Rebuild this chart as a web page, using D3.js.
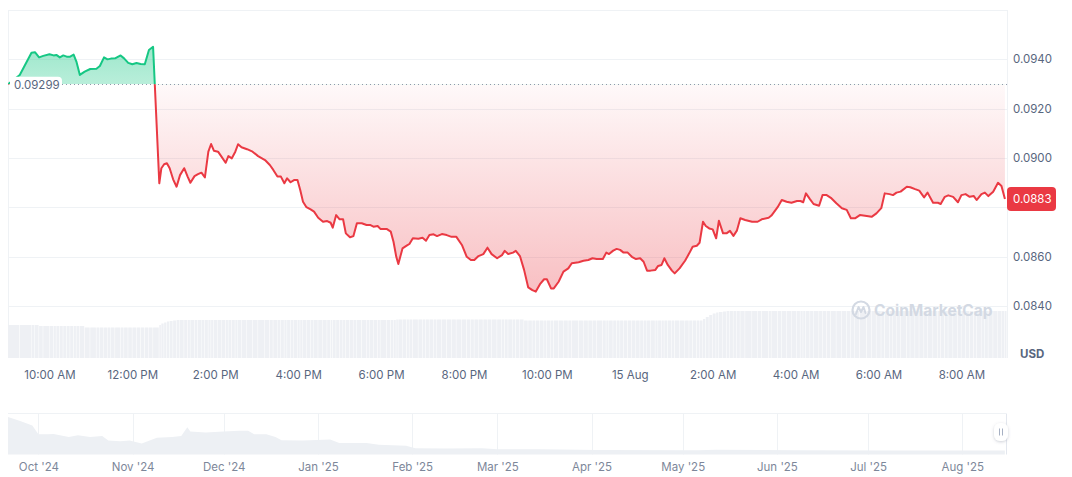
<!DOCTYPE html>
<html><head><meta charset="utf-8">
<script src="https://cdn.jsdelivr.net/npm/d3@7"></script>
<style>
html,body{margin:0;padding:0;background:#fff;}
svg{display:block;font-family:Inter,"Noto Sans",sans-serif;}
</style></head><body>
<svg id="chart" width="1072" height="477"></svg>
<script>
// ---------- DATA ----------
const startDay = [2025, 7, 14]; // 14 Aug 2025 (month 0-based)
const times = [
"09:00","09:17","09:34","09:39","09:45","09:51","10:00","10:06","10:10","10:15",
"10:20","10:25","10:30","10:35","10:39","10:44","10:51","10:59","11:08","11:13",
"11:19","11:24","11:29","11:35","11:43","11:48","11:54","12:00","12:06","12:12",
"12:18","12:24","12:30","12:39","12:42","12:46","12:50","12:54","12:59","13:04",
"13:09","13:15","13:20","13:24","13:30","13:35","13:40","13:45","13:50","13:54",
"13:58","14:04","14:09","14:15","14:19","14:24","14:29","14:33","14:38","14:46",
"14:54","15:02","15:12","15:19","15:24","15:30","15:35","15:40","15:44","15:49",
"15:54","15:59","16:03","16:07","16:12","16:18","16:23","16:29","16:36","16:42",
"16:47","16:50","16:55","17:00","17:05","17:09","17:15","17:20","17:25","17:32",
"17:39","17:44","17:49","17:55","17:59","18:08","18:14","18:18","18:22","18:25",
"18:31","18:37","18:41","18:46","18:54","19:00","19:05","19:10","19:16","19:21",
"19:28","19:35","19:42","19:49","19:57","20:04","20:10","20:15","20:21","20:28",
"20:34","20:40","20:48","20:55","20:59","21:04","21:11","21:15","21:21","21:27",
"21:33","21:39","21:44","21:50","21:56","22:00","22:06","22:10","22:17","22:24",
"22:31","22:36","22:46","22:53","23:00","23:06","23:12","23:21","23:26","23:30",
"23:36","23:41","23:46","23:51","23:57","00:03","00:09","00:15","00:20","00:25",
"00:30","00:37","00:41","00:46","00:50","00:55","01:01","01:05","01:12","01:20",
"01:26","01:31","01:37","01:41","01:46","01:50","01:55","02:00","02:05","02:09",
"02:15","02:20","02:25","02:30","02:35","02:40","02:47","02:57","03:05","03:11",
"03:21","03:25","03:34","03:40","03:47","03:54","04:02","04:07","04:11","04:15",
"04:21","04:26","04:34","04:39","04:45","04:51","04:59","05:07","05:14","05:20",
"05:26","05:33","05:43","05:50","05:57","06:04","06:09","06:16","06:21","06:26",
"06:32","06:41","06:46","06:53","06:59","07:06","07:11","07:19","07:26","07:30",
"07:36","07:41","07:48","07:55","08:00","08:06","08:12","08:18","08:22","08:29",
"08:34","08:39","08:46","08:53","08:58","09:03"];
const prices = [
0.09299,0.09337,0.09427,0.09429,0.09408,0.09414,0.09421,0.09416,0.09418,0.09408,
0.09416,0.09411,0.09411,0.09419,0.09391,0.09337,0.09350,0.09361,0.09362,0.09373,
0.09408,0.09400,0.09403,0.09404,0.09416,0.09404,0.09386,0.09380,0.09385,0.09381,
0.09380,0.09438,0.09451,0.08898,0.08959,0.08975,0.08979,0.08959,0.08914,0.08884,
0.08931,0.08959,0.08925,0.08900,0.08927,0.08935,0.08941,0.08922,0.09026,0.09057,
0.09030,0.09026,0.09006,0.08981,0.09008,0.08999,0.09026,0.09056,0.09044,0.09036,
0.09026,0.09008,0.08992,0.08972,0.08952,0.08925,0.08925,0.08898,0.08918,0.08902,
0.08911,0.08911,0.08871,0.08823,0.08801,0.08792,0.08783,0.08758,0.08742,0.08745,
0.08738,0.08718,0.08769,0.08752,0.08752,0.08695,0.08679,0.08684,0.08736,0.08736,
0.08729,0.08729,0.08722,0.08725,0.08713,0.08713,0.08702,0.08661,0.08600,0.08571,
0.08634,0.08645,0.08652,0.08675,0.08673,0.08677,0.08665,0.08688,0.08691,0.08684,
0.08692,0.08688,0.08681,0.08681,0.08648,0.08600,0.08587,0.08587,0.08603,0.08611,
0.08637,0.08611,0.08594,0.08607,0.08624,0.08611,0.08617,0.08624,0.08603,0.08547,
0.08476,0.08465,0.08459,0.08489,0.08509,0.08509,0.08472,0.08472,0.08499,0.08540,
0.08553,0.08574,0.08578,0.08584,0.08587,0.08594,0.08591,0.08591,0.08617,0.08611,
0.08625,0.08632,0.08628,0.08617,0.08617,0.08600,0.08591,0.08594,0.08580,0.08544,
0.08544,0.08547,0.08563,0.08567,0.08594,0.08567,0.08544,0.08533,0.08553,0.08584,
0.08614,0.08641,0.08645,0.08657,0.08742,0.08725,0.08715,0.08711,0.08675,0.08746,
0.08695,0.08695,0.08705,0.08685,0.08706,0.08756,0.08749,0.08742,0.08742,0.08752,
0.08758,0.08767,0.08801,0.08830,0.08823,0.08819,0.08826,0.08826,0.08821,0.08857,
0.08833,0.08814,0.08807,0.08850,0.08850,0.08839,0.08817,0.08797,0.08790,0.08756,
0.08756,0.08769,0.08765,0.08762,0.08776,0.08797,0.08857,0.08854,0.08850,0.08860,
0.08864,0.08884,0.08882,0.08874,0.08868,0.08841,0.08860,0.08819,0.08819,0.08814,
0.08843,0.08849,0.08843,0.08821,0.08850,0.08854,0.08843,0.08846,0.08830,0.08854,
0.08860,0.08846,0.08864,0.08900,0.08887,0.08834];
// volume (millions USD), one bar per price point
const volumes = [
3.3,3.3,3.3,3.3,3.2,3.2,3.2,3.2,3.2,3.2,
3.2,3.2,3.2,3.2,3.2,3.2,3.05,3.05,3.05,3.05,
3.05,3.05,3.05,3.05,3.05,3.05,3.05,3.05,3.05,3.05,
3.05,3.05,3.05,3.3,3.45,3.55,3.65,3.7,3.75,3.8,
3.8,3.8,3.8,3.8,3.8,3.8,3.8,3.8,3.8,3.8,
3.8,3.8,3.8,3.8,3.8,3.8,3.8,3.8,3.8,3.8,
3.8,3.8,3.8,3.8,3.8,3.8,3.8,3.8,3.8,3.8,
3.8,3.8,3.8,3.8,3.8,3.8,3.8,3.8,3.8,3.8,
3.8,3.8,3.8,3.8,3.8,3.8,3.8,3.8,3.8,3.8,
3.8,3.8,3.8,3.8,3.8,3.8,3.8,3.8,3.85,3.85,
3.85,3.85,3.85,3.85,3.85,3.85,3.85,3.85,3.85,3.85,
3.85,3.85,3.85,3.85,3.85,3.85,3.85,3.85,3.85,3.85,
3.85,3.85,3.85,3.85,3.85,3.85,3.85,3.85,3.85,3.75,
3.75,3.75,3.75,3.75,3.75,3.75,3.75,3.75,3.75,3.75,
3.75,3.75,3.75,3.75,3.75,3.75,3.75,3.75,3.75,3.75,
3.75,3.75,3.75,3.75,3.75,3.75,3.75,3.75,3.75,3.75,
3.75,3.75,3.75,3.75,3.75,3.75,3.75,3.75,3.75,3.75,
3.75,3.75,3.75,3.75,3.9,4.1,4.3,4.45,4.55,4.6,
4.65,4.7,4.7,4.7,4.7,4.7,4.7,4.7,4.7,4.7,
4.7,4.7,4.7,4.7,4.7,4.7,4.7,4.7,4.7,4.7,
4.7,4.7,4.7,4.7,4.7,4.7,4.7,4.7,4.7,4.7,
4.7,4.7,4.7,4.7,4.7,4.7,4.7,4.7,4.7,4.7,
4.7,4.7,4.7,4.7,4.7,4.7,4.7,4.7,4.7,4.7,
4.7,4.7,4.7,4.7,4.7,4.7,4.7,4.7,4.7,4.7,
4.7,4.7,4.7,4.7,4.7,4.7];
const basePrice = 0.09299;
const yTicks = [0.0840,0.0860,0.0880,0.0900,0.0920,0.0940,0.0960];
const xTickLabels = ["10:00 AM","12:00 PM","2:00 PM","4:00 PM","6:00 PM","8:00 PM","10:00 PM","15 Aug","2:00 AM","4:00 AM","6:00 AM","8:00 AM"];
const currencyLabel = "USD";
const watermark = "CoinMarketCap";
// navigator (one-year history)
const navDates = ["2024-09-21","2024-09-25","2024-09-29","2024-10-01","2024-10-04","2024-10-06","2024-10-11","2024-10-14","2024-10-18","2024-10-22",
"2024-10-24","2024-10-28","2024-10-31","2024-11-04","2024-11-09","2024-11-14","2024-11-17","2024-11-19","2024-11-20","2024-11-25",
"2024-12-01","2024-12-06","2024-12-09","2024-12-11","2024-12-15","2024-12-18","2024-12-20","2024-12-27","2025-01-05","2025-01-08",
"2025-01-17","2025-01-21","2025-01-30","2025-02-02","2025-02-12","2025-02-24","2025-03-01","2025-03-15","2025-04-03","2025-05-06",
"2025-05-12","2025-06-08","2025-07-11","2025-08-15"];
const navPrices = [0.825,0.734,0.635,0.444,0.444,0.450,0.383,0.420,0.383,0.405,
0.307,0.292,0.307,0.239,0.367,0.383,0.405,0.597,0.504,0.482,
0.504,0.520,0.520,0.444,0.444,0.383,0.314,0.307,0.329,0.254,
0.254,0.214,0.192,0.139,0.130,0.139,0.117,0.117,0.100,0.095,
0.105,0.095,0.090,0.088];
const navTickLabels = ["Oct '24","Nov '24","Dec '24","Jan '25","Feb '25","Mar '25","Apr '25","May '25","Jun '25","Jul '25","Aug '25"];

// ---------- BUILD ----------
let day = startDay[2], prevMin = -1;
const data = times.map((t, i) => {
  const [h, m] = t.split(":").map(Number);
  const mins = h * 60 + m;
  if (mins < prevMin) day++;
  prevMin = mins;
  return {date: new Date(startDay[0], startDay[1], day, h, m), price: prices[i], vol: volumes[i]};
});

const L = 8, R = 1007, T = 10, B = 358;
const FS = 11.5;
const svg = d3.select("#chart");
const x = d3.scaleTime().domain([new Date(2025,7,14,9,0), new Date(2025,7,15,9,6)]).range([L, R]);
const y = d3.scaleLinear().domain([0.0819, 0.0960]).range([B, T]);
const yv = d3.scaleLinear().domain([0, 6]).range([B, B - 60]);
const yb = y(basePrice);
const green = "#16c784", red = "#ea3943", txt = "#58667e", grid = "#eff2f5";

const defs = svg.append("defs");
const gG = defs.append("linearGradient").attr("id","gG").attr("gradientUnits","userSpaceOnUse")
  .attr("x1",0).attr("x2",0).attr("y1",y(d3.max(prices))).attr("y2",yb);
gG.append("stop").attr("offset",0).attr("stop-color",green).attr("stop-opacity",0.42);
gG.append("stop").attr("offset",1).attr("stop-color",green).attr("stop-opacity",0.3);
const gR = defs.append("linearGradient").attr("id","gR").attr("gradientUnits","userSpaceOnUse")
  .attr("x1",0).attr("x2",0).attr("y1",yb).attr("y2",y(d3.min(prices)));
gR.append("stop").attr("offset",0).attr("stop-color",red).attr("stop-opacity",0.03);
gR.append("stop").attr("offset",1).attr("stop-color",red).attr("stop-opacity",0.32);
defs.append("clipPath").attr("id","cAbove").append("rect").attr("x",L).attr("y",0).attr("width",R-L).attr("height",yb);
defs.append("clipPath").attr("id","cBelow").append("rect").attr("x",L).attr("y",yb).attr("width",R-L).attr("height",B-yb);
const sh = defs.append("filter").attr("id","shadow").attr("x","-50%").attr("y","-50%").attr("width","200%").attr("height","200%");
sh.append("feDropShadow").attr("dx",0).attr("dy",1).attr("stdDeviation",1.5).attr("flood-color","#58667e").attr("flood-opacity",0.3);

// grid
svg.append("g").selectAll("line").data(yTicks).join("line")
  .attr("x1",L).attr("x2",R).attr("y1",d=>Math.round(y(d))+0.5).attr("y2",d=>Math.round(y(d))+0.5)
  .attr("stroke",grid).attr("stroke-width",1);
svg.append("line").attr("x1",L+0.5).attr("x2",L+0.5).attr("y1",T).attr("y2",B).attr("stroke",grid);
svg.append("line").attr("x1",R+0.5).attr("x2",R+0.5).attr("y1",T).attr("y2",B).attr("stroke",grid);

// volume bars
svg.append("g").selectAll("rect").data(data).join("rect")
  .attr("x", d => x(d.date))
  .attr("width", (d,i) => { const nx = i < data.length-1 ? x(data[i+1].date) : R; return Math.max(0.5, nx - x(d.date) - 0.5); })
  .attr("y", d => yv(d.vol)).attr("height", d => B - yv(d.vol))
  .attr("fill", "#eef0f4");

// watermark
const wm = svg.append("g").attr("transform","translate(861,310)");
wm.append("circle").attr("r",8.5).attr("fill","none").attr("stroke","#d3d9e3").attr("stroke-width",2.2);
wm.append("path").attr("d","M-5,4 L-2.5,-3 L0,2 L2.5,-3 L4.5,3").attr("fill","none").attr("stroke","#d3d9e3").attr("stroke-width",2).attr("stroke-linejoin","round").attr("stroke-linecap","round");
svg.append("text").attr("x",874).attr("y",315.5).attr("font-size",15.5).attr("font-weight",700)
  .attr("fill","#d3d9e3").text(watermark);

// areas
const area = d3.area().x(d=>x(d.date)).y0(yb).y1(d=>y(d.price));
const line = d3.line().x(d=>x(d.date)).y(d=>y(d.price));
svg.append("path").datum(data).attr("d",area).attr("fill","url(#gG)").attr("clip-path","url(#cAbove)");
svg.append("path").datum(data).attr("d",area).attr("fill","url(#gR)").attr("clip-path","url(#cBelow)");

// baseline
svg.append("line").attr("x1",62).attr("x2",R).attr("y1",Math.round(yb)+0.5).attr("y2",Math.round(yb)+0.5)
  .attr("stroke","#8f98aa").attr("stroke-dasharray","1,3").attr("stroke-width",1);

// lines
svg.append("path").datum(data).attr("d",line).attr("fill","none").attr("stroke",green).attr("stroke-width",2)
  .attr("stroke-linejoin","round").attr("clip-path","url(#cAbove)");
svg.append("path").datum(data).attr("d",line).attr("fill","none").attr("stroke",red).attr("stroke-width",2)
  .attr("stroke-linejoin","round").attr("clip-path","url(#cBelow)");

// baseline label
svg.append("rect").attr("x",10).attr("y",yb-7.5).attr("width",52).attr("height",16).attr("rx",4).attr("fill","#fff");
svg.append("text").attr("x",14).attr("y",yb+1).attr("dy","0.35em").attr("font-size",FS).attr("fill",txt).text(d3.format(".5f")(basePrice));

// y labels
const last = data[data.length-1];
const ly = y(last.price);
svg.append("g").selectAll("text").data(yTicks.filter(d => Math.abs(y(d)-ly) > 14 && y(d) > T + 5)).join("text")
  .attr("x",1013).attr("y",d=>y(d)).attr("dy","0.35em").attr("font-size",FS).attr("fill",txt)
  .text(d=>d3.format(".4f")(d));
svg.append("rect").attr("x",R).attr("y",ly-12).attr("width",49).attr("height",24).attr("rx",4).attr("fill",red);
svg.append("text").attr("x",1013).attr("y",ly).attr("dy","0.35em").attr("font-size",FS).attr("fill","#fff")
  .text(d3.format(".4f")(Math.floor(last.price*1e4)/1e4));
svg.append("text").attr("x",1020).attr("y",354).attr("dy","0.35em").attr("font-size",FS).attr("font-weight",700)
  .attr("fill",txt).text(currencyLabel);

// x axis
const xTickValues = d3.timeHour.every(2).range(new Date(2025,7,14,10), new Date(2025,7,15,9));
const xa = svg.append("g").attr("transform",`translate(0,${B})`)
  .call(d3.axisBottom(x).tickValues(xTickValues).tickFormat((d,i)=>xTickLabels[i]).tickSize(0).tickPadding(13));
xa.select(".domain").remove();
xa.selectAll("text").attr("font-size",FS).attr("fill",txt).attr("font-family","Inter,'Noto Sans',sans-serif");

// navigator
const NT = 413.5, NB = 454.5, NR = 1006;
const nx = d3.scaleTime().domain([new Date(2024,8,21), new Date(2025,7,15,9)]).range([L, NR]);
const ny = d3.scaleLinear().domain([0, 0.9]).range([NB, NT]);
const parseD = d3.timeParse("%Y-%m-%d");
const nav = navDates.map((d,i)=>({date: parseD(d), price: navPrices[i]}));
const navTickValues = d3.timeMonth.range(new Date(2024,9,1), new Date(2025,8,1));
svg.append("line").attr("x1",L).attr("x2",NR).attr("y1",NT).attr("y2",NT).attr("stroke",grid);
svg.append("g").selectAll("line").data(navTickValues).join("line")
  .attr("x1",d=>Math.round(nx(d))+0.5).attr("x2",d=>Math.round(nx(d))+0.5).attr("y1",NT).attr("y2",NB)
  .attr("stroke",grid);
svg.append("path").datum(nav).attr("d", d3.area().x(d=>nx(d.date)).y0(NB).y1(d=>ny(d.price)))
  .attr("fill","#edf0f4");
svg.append("line").attr("x1",NR+0.5).attr("x2",NR+0.5).attr("y1",NT).attr("y2",NB).attr("stroke","#e3e7ee");
const na = svg.append("g").attr("transform",`translate(0,${NB})`)
  .call(d3.axisBottom(nx).tickValues(navTickValues).tickFormat((d,i)=>navTickLabels[i]).tickSize(0).tickPadding(8));
na.select(".domain").remove();
na.selectAll("text").attr("font-size",FS).attr("fill","#7d879a").attr("font-family","Inter,'Noto Sans',sans-serif");
// handle
const hd = svg.append("g").attr("transform","translate(1001,432)");
hd.append("rect").attr("x",-7).attr("y",-9).attr("width",14).attr("height",18).attr("rx",6).attr("fill","#fff").attr("filter","url(#shadow)");
hd.append("line").attr("x1",-1.5).attr("x2",-1.5).attr("y1",-3.5).attr("y2",3.5).attr("stroke","#a6b0c3");
hd.append("line").attr("x1",1.5).attr("x2",1.5).attr("y1",-3.5).attr("y2",3.5).attr("stroke","#a6b0c3");
</script>
</body></html>
